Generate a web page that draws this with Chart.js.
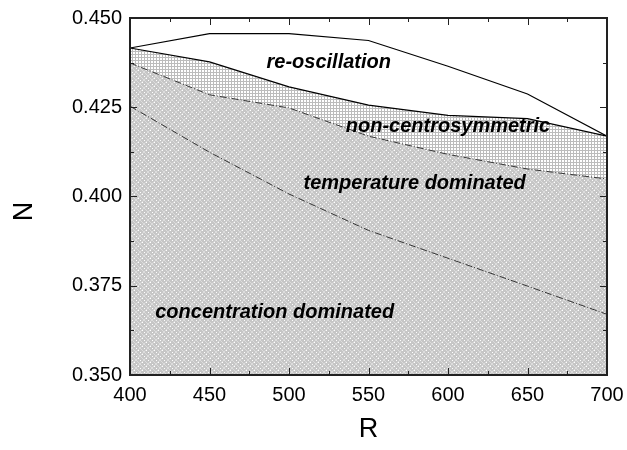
<!DOCTYPE html>
<html>
<head>
<meta charset="utf-8">
<script src="https://cdn.jsdelivr.net/npm/chart.js@4.4.1/dist/chart.umd.min.js"></script>
<style>
    body { margin: 0; background: #fff; }
    #wrap { width: 627px; height: 450px; }
</style>
</head>
<body>
<div id="wrap"><canvas id="myChart"></canvas></div>
<script>
// boundary curves, R = 400..700
const rValues = [400, 450, 500, 550, 600, 650, 700];
const reoscTop = [0.4416, 0.4456, 0.4456, 0.4437, 0.4365, 0.4287, 0.4169];
const noncentroTop = [0.4416, 0.4377, 0.4307, 0.4256, 0.4227, 0.4218, 0.4169];
const temperatureTop = [0.4374, 0.4285, 0.4248, 0.4169, 0.4118, 0.4077, 0.4049];
const concentrationTop = [0.4253, 0.4124, 0.4007, 0.3905, 0.3827, 0.3749, 0.3670];

const xTickLabels = [400, 450, 500, 550, 600, 650, 700];
const yTickLabels = ["0.350", "0.375", "0.400", "0.425", "0.450"];

const regionNames = ["re-oscillation", "non-centrosymmetric", "temperature dominated", "concentration dominated"];
const regionR = [525, 600, 579, 491];
const regionN = [0.4374, 0.4197, 0.4037, 0.3674];

function toPoints(ys) {
    return rValues.map((r, i) => ({ x: r, y: ys[i] }));
}

// hatch patterns
function grayPattern() {
    const c = document.createElement("canvas");
    c.width = 8; c.height = 8;
    const g = c.getContext("2d");
    g.fillStyle = "#c6c6c6";
    g.fillRect(0, 0, 8, 8);
    g.fillStyle = "#dcdcdc";
    for (let i = 0; i < 8; i++) {
        g.fillRect(i, i, 1, 1);
        g.fillRect(7 - i, i, 1, 1);
    }
    g.fillStyle = "#ffffff";
    g.fillRect(0, 4, 1, 1);
    g.fillRect(4, 0, 1, 1);
    g.fillRect(2, 6, 1, 1);
    g.fillRect(6, 2, 1, 1);
    return g.createPattern(c, "repeat");
}

function gridPattern() {
    const c = document.createElement("canvas");
    c.width = 3; c.height = 3;
    const g = c.getContext("2d");
    g.fillStyle = "#ffffff";
    g.fillRect(0, 0, 3, 3);
    g.fillStyle = "#bcbcbc";
    g.fillRect(0, 0, 3, 1);
    g.fillRect(0, 0, 1, 3);
    return g.createPattern(c, "repeat");
}

const frameAndTicks = {
    id: "frameAndTicks",
    afterDraw(chart) {
        const { ctx, chartArea: a, scales } = chart;
        ctx.save();
        ctx.strokeStyle = "#222";
        ctx.lineWidth = 1;
        ctx.beginPath();
        scales.x.ticks.forEach(t => {
            const px = Math.round(scales.x.getPixelForValue(t.value)) + 0.5;
            const len = t.value % 50 === 0 ? 7 : 4;
            ctx.moveTo(px, a.bottom); ctx.lineTo(px, a.bottom - len);
            ctx.moveTo(px, a.top); ctx.lineTo(px, a.top + len);
        });
        scales.y.ticks.forEach((t, i) => {
            const py = Math.round(scales.y.getPixelForValue(t.value)) + 0.5;
            const len = i % 2 === 0 ? 7 : 4;
            ctx.moveTo(a.left, py); ctx.lineTo(a.left + len, py);
            ctx.moveTo(a.right, py); ctx.lineTo(a.right - len, py);
        });
        ctx.stroke();
        ctx.lineWidth = 2;
        ctx.strokeRect(a.left, a.top, a.right - a.left, a.bottom - a.top);
        ctx.restore();
    }
};

const regionText = {
    id: "regionText",
    afterDatasetsDraw(chart) {
        const { ctx, scales } = chart;
        ctx.save();
        ctx.font = "italic bold 20px 'Liberation Sans', Arial, sans-serif";
        ctx.fillStyle = "#000";
        ctx.textAlign = "center";
        ctx.textBaseline = "middle";
        regionNames.forEach((name, i) => {
            ctx.fillText(name, scales.x.getPixelForValue(regionR[i]), scales.y.getPixelForValue(regionN[i]));
        });
        ctx.restore();
    }
};

const tickFont = { family: "'Liberation Sans', Arial, sans-serif", size: 20 };
const titleFont = { family: "'Liberation Sans', Arial, sans-serif", size: 27 };

new Chart("myChart", {
    type: "line",
    data: {
        datasets: [
            {
                label: "concentration",
                data: toPoints(concentrationTop),
                borderColor: "#333",
                borderWidth: 1,
                borderDash: [7, 2, 1, 2],
                pointRadius: 0,
                fill: false
            },
            {
                label: "temperature",
                data: toPoints(temperatureTop),
                borderColor: "#333",
                borderWidth: 1,
                borderDash: [7, 2, 1, 2],
                pointRadius: 0,
                backgroundColor: grayPattern(),
                fill: "start"
            },
            {
                label: "non-centrosymmetric",
                data: toPoints(noncentroTop),
                borderColor: "#000",
                borderWidth: 1.2,
                pointRadius: 0,
                backgroundColor: gridPattern(),
                fill: "-1"
            },
            {
                label: "re-oscillation",
                data: toPoints(reoscTop),
                borderColor: "#000",
                borderWidth: 1.2,
                pointRadius: 0,
                fill: false
            }
        ]
    },
    options: {
        responsive: true,
        maintainAspectRatio: false,
        animation: false,
        layout: { padding: { left: 0, right: 20, top: 18, bottom: 0 } },
        plugins: {
            legend: { display: false },
            tooltip: { enabled: false }
        },
        scales: {
            x: {
                type: "linear",
                min: 400,
                max: 700,
                afterFit: s => { s.height = 75; s.paddingLeft = 0; s.paddingRight = 0; },
                ticks: {
                    stepSize: 25,
                    autoSkip: false,
                    maxRotation: 0,
                    padding: 8,
                    color: "#000",
                    font: tickFont,
                    callback: v => xTickLabels.includes(v) ? String(v) : ""
                },
                grid: { display: false, drawTicks: false },
                border: { display: false },
                title: { display: true, text: "R", color: "#000", font: titleFont, padding: { top: 0, bottom: 4 } }
            },
            y: {
                min: 0.35,
                max: 0.45,
                afterFit: s => { s.width = 130; s.paddingTop = 0; s.paddingBottom = 0; },
                ticks: {
                    stepSize: 0.0125,
                    autoSkip: false,
                    padding: 8,
                    color: "#000",
                    font: tickFont,
                    callback: (v, i) => i % 2 === 0 ? yTickLabels[i / 2] : ""
                },
                grid: { display: false, drawTicks: false },
                border: { display: false },
                title: { display: true, text: "N    ", color: "#000", font: titleFont, padding: { top: 8, bottom: 0 } }
            }
        }
    },
    plugins: [regionText, frameAndTicks]
});
</script>
</body>
</html>
